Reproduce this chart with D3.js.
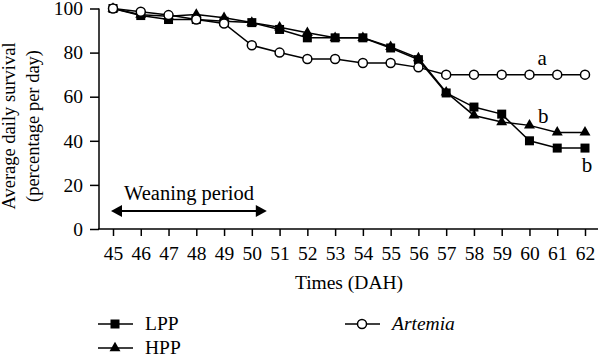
<!DOCTYPE html>
<html><head><meta charset="utf-8">
<script src="https://cdn.jsdelivr.net/npm/d3@7"></script>
<style>body{margin:0;background:#fff}svg{display:block}</style>
</head><body><svg id="c" width="600" height="356"></svg>
<script>
const FONT = "'Liberation Serif', 'Times New Roman', serif";
const days = [45,46,47,48,49,50,51,52,53,54,55,56,57,58,59,60,61,62];
const lpp = [100,96.8,95,95,94.2,93.6,90.5,86.7,86.7,86.7,82.1,76.8,61.7,55.3,52.1,40,36.7,36.7];
const hpp = [100,97.2,96.5,97.3,95.8,93.6,91.5,89,86.7,86.7,82.6,77.5,62,51.5,48.5,47,43.8,43.8];
const artemia = [100,98.5,97,95,93.2,83.3,80,77.1,77.1,75.3,75.3,73.3,70,70,70,70,70,70];
const yTicks = [0,20,40,60,80,100];
const sigLabels = [{t:"a", d:61, v:74.4, dx:-15},{t:"b", d:61, v:48.1, dx:-14},{t:"b", d:62, v:25.9, dx:2}];

const svg = d3.select("#c");
const x = d3.scalePoint().domain(days).range([113,585]);
const y = d3.scaleLinear().domain([0,100]).range([229,8.5]);

// axes
const xa = svg.append("g").attr("transform","translate(0,229)")
  .call(d3.axisBottom(x).tickSize(7).tickPadding(6));
xa.select(".domain").attr("d","M98,0H598");
const ya = svg.append("g").attr("transform","translate(99,0)")
  .call(d3.axisLeft(y).tickValues(yTicks).tickSize(9).tickPadding(7));
ya.select(".domain").attr("d","M0,229V8.5");
svg.selectAll(".tick line,.domain").attr("stroke","#000").attr("stroke-width",1.5);
svg.selectAll(".tick text").style("font-size","19.5px").style("font-family",FONT).attr("fill","#000");
xa.selectAll(".tick text").attr("dy","0.9em");

function txt(xp, yp, s, size, anchor){
  return svg.append("text").attr("x",xp).attr("y",yp).attr("text-anchor",anchor||"middle")
    .style("font-size",size+"px").style("font-family",FONT).attr("fill","#000").text(s);
}

// axis titles
txt(349, 289, "Times (DAH)", 19.5);
const yt = svg.append("text").attr("transform","translate(0,126) rotate(-90)").attr("text-anchor","middle")
  .style("font-size","18.5px").style("font-family",FONT).attr("fill","#000");
yt.append("tspan").attr("x",0).attr("y",15).text("Average daily survival");
yt.append("tspan").attr("x",0).attr("y",39).text("(percentage per day)");

// weaning period
txt(189, 200, "Weaning period", 20.5);
const ax0 = x(45)-2, ax1 = x(50)+15, ay = 211;
svg.append("line").attr("x1",ax0+8).attr("x2",ax1-8).attr("y1",ay).attr("y2",ay).attr("stroke","#000").attr("stroke-width",1.8);
svg.append("path").attr("d",`M${ax0},${ay}l11,-6v12z`).attr("fill","#000");
svg.append("path").attr("d",`M${ax1},${ay}l-11,-6v12z`).attr("fill","#000");

const line = d3.line().x((d,i)=>x(days[i])).y(d=>y(d));
const series = [
  {name:"Artemia", vals:artemia, m:"circle"},
  {name:"HPP", vals:hpp, m:"triangle"},
  {name:"LPP", vals:lpp, m:"square"}
];
function marker(g, type, cx, cy){
  if(type==="square") g.append("rect").attr("x",cx-4.5).attr("y",cy-4.5).attr("width",9).attr("height",9).attr("fill","#000");
  else if(type==="triangle") g.append("path").attr("d",d3.symbol(d3.symbolTriangle,52)()).attr("transform",`translate(${cx},${cy})`).attr("fill","#000");
  else g.append("circle").attr("cx",cx).attr("cy",cy).attr("r",4.5).attr("fill","#fff").attr("stroke","#000").attr("stroke-width",1.5);
}
series.forEach(s=>{
  svg.append("path").attr("d",line(s.vals)).attr("fill","none").attr("stroke","#000").attr("stroke-width",1.5);
});
[series[2],series[1],series[0]].forEach(s=>{
  const g = svg.append("g");
  s.vals.forEach((v,i)=>marker(g, s.m, x(days[i]), y(v)));
});

sigLabels.forEach(l=>{ txt(x(l.d)+l.dx, y(l.v), l.t, 21); });

// legend
const leg = [{n:"LPP",m:"square",x:98,y:324,it:false},{n:"HPP",m:"triangle",x:98,y:348,it:false},{n:"Artemia",m:"circle",x:345,y:324,it:true}];
leg.forEach(l=>{
  const g = svg.append("g");
  g.append("line").attr("x1",l.x).attr("x2",l.x+35).attr("y1",l.y).attr("y2",l.y).attr("stroke","#000").attr("stroke-width",1.5);
  marker(g, l.m, l.x+17, l.y);
  txt(l.x+47, l.y+6, l.n, 19.5, "start").style("font-style",l.it?"italic":"normal");
});
</script></body></html>
